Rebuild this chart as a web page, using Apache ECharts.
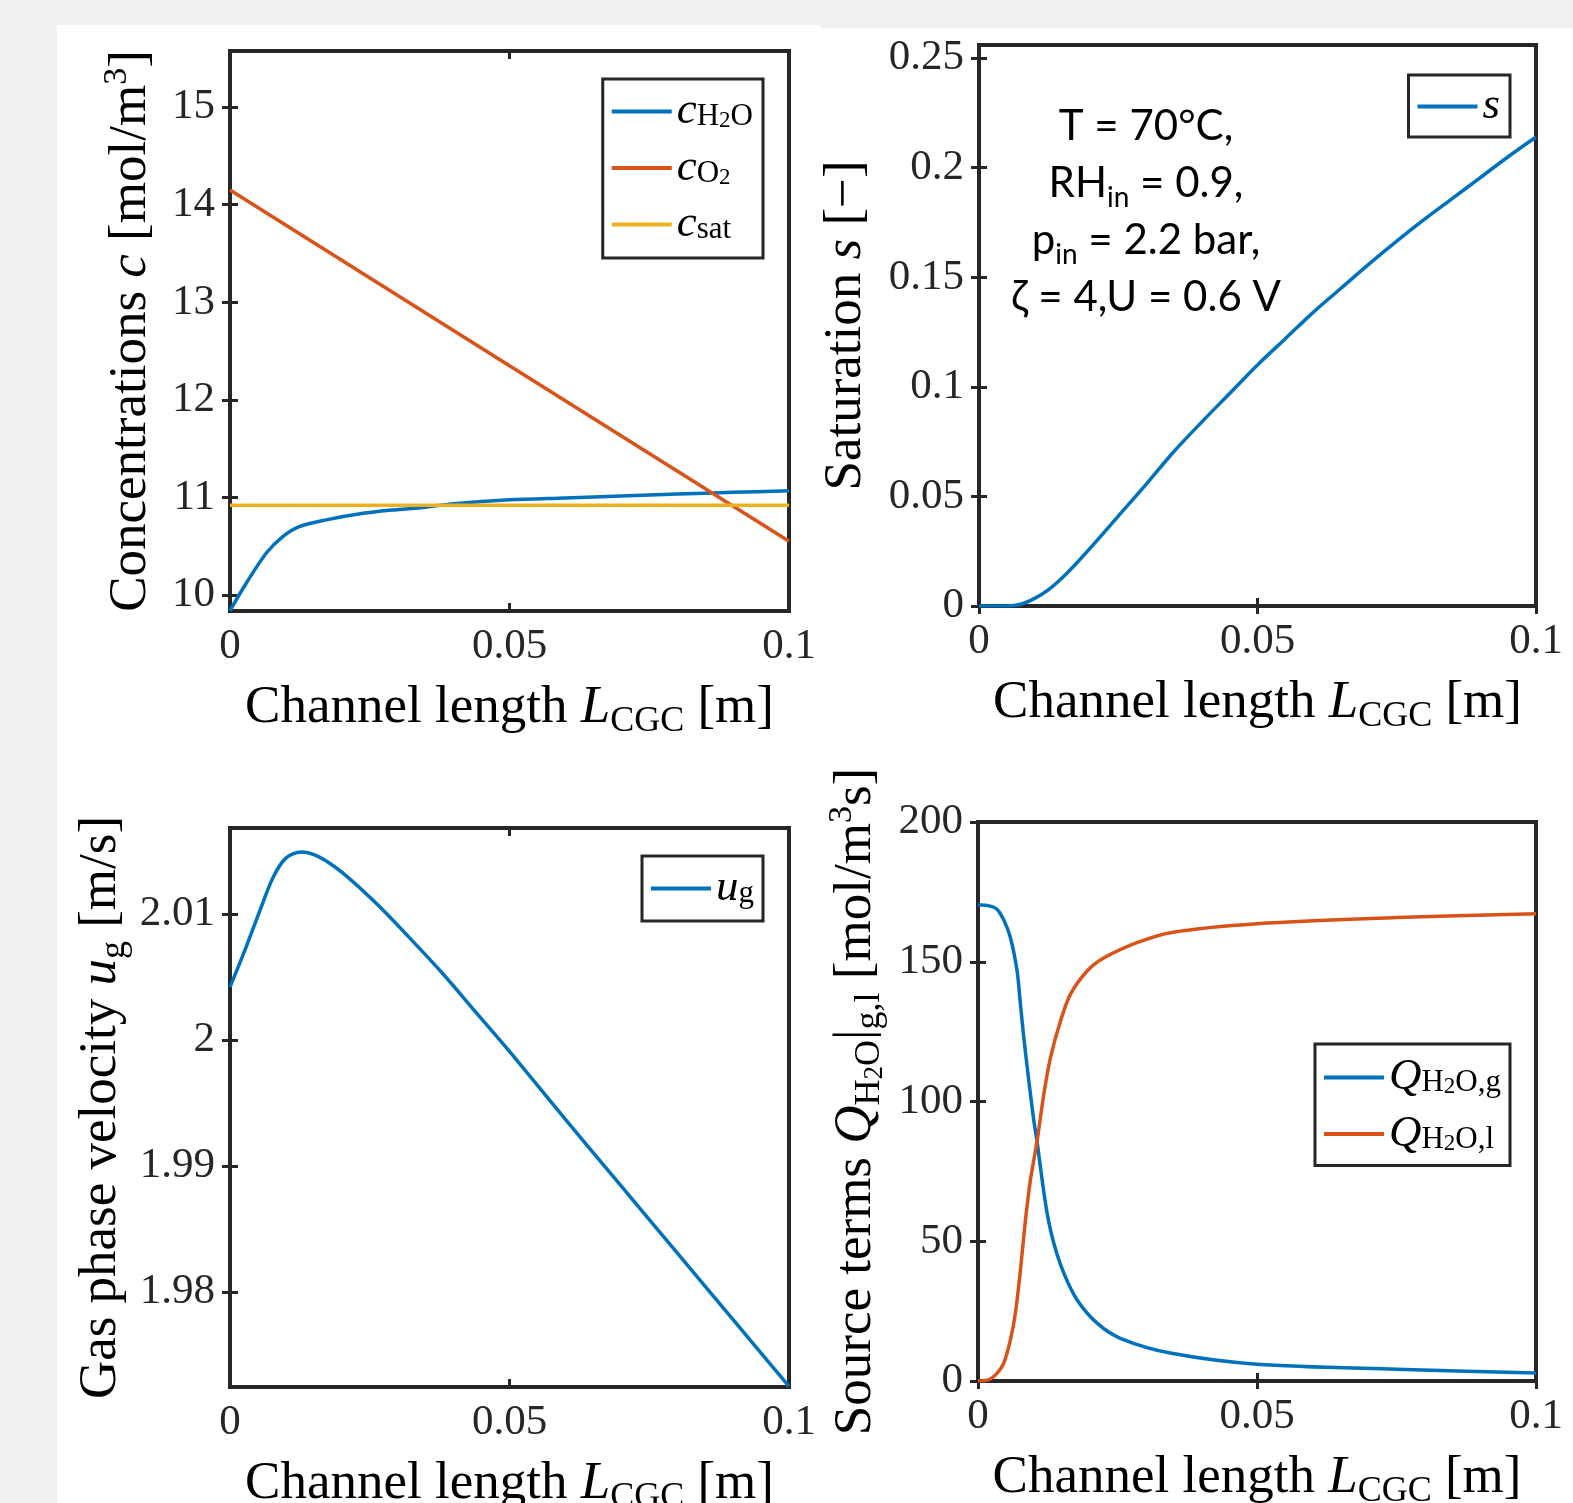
<!DOCTYPE html>
<html>
<head>
<meta charset="utf-8">
<script src="https://cdn.jsdelivr.net/npm/echarts@6/dist/echarts.min.js"></script>
<style>
  html, body { margin: 0; padding: 0; background: #f1f1f1; }
  #chart { width: 1573px; height: 1503px; }
</style>
</head>
<body>
<div id="chart"></div>
<script>
// channel position [m] and values
const lenH2O = [0, 0.0029, 0.0065, 0.0095, 0.0124, 0.0172, 0.023, 0.029, 0.035, 0.04, 0.05, 0.06, 0.07, 0.08, 0.09, 0.1];
const cH2O = [9.84, 10.12, 10.43, 10.60, 10.70, 10.77, 10.83, 10.87, 10.90, 10.935, 10.975, 10.995, 11.015, 11.035, 11.052, 11.068];
const lenO2 = [0, 0.05, 0.1];
const cO2 = [14.15, 12.35, 10.55];
const lenSat = [0, 0.1];
const cSat = [10.92, 10.92];

const lenS = [0, 0.005, 0.0075, 0.01, 0.0125, 0.015, 0.0175, 0.02, 0.025, 0.03, 0.035, 0.04, 0.045, 0.05,
  0.055, 0.06, 0.065, 0.07, 0.075, 0.08, 0.085, 0.09, 0.095, 0.1];
const sat = [0, 0, 0.0008, 0.0035, 0.0075, 0.013, 0.0195, 0.0265, 0.041, 0.0555, 0.0705, 0.084, 0.097, 0.110,
  0.122, 0.134, 0.145, 0.156, 0.1665, 0.1765, 0.186, 0.1955, 0.205, 0.214];

const lenU = [0, 0.0029, 0.0052, 0.0077, 0.01, 0.0127, 0.016, 0.0202, 0.0261, 0.032, 0.038, 0.044, 0.05,
  0.06, 0.07, 0.08, 0.09, 0.1];
const ug = [2.0042, 2.0074, 2.0101, 2.0129, 2.01444, 2.01492, 2.01452, 2.01325, 2.01087, 2.00817, 2.0053, 2.0022,
  1.9991, 1.9937, 1.9884, 1.9831, 1.9778, 1.9725];

const lenQg = [0, 0.002, 0.0034, 0.0046, 0.0058, 0.007, 0.0076, 0.0082, 0.0091, 0.01, 0.0106, 0.0115, 0.0124, 0.0136,
  0.0154, 0.0178, 0.0214, 0.0256, 0.0347, 0.05, 0.075, 0.1];
const qg = [170.4, 170, 168.8, 165, 158.7, 146.8, 134.9, 123, 107.5, 93.2, 85.5, 71.8, 59.9, 49.2, 38.5, 28.9, 20.6,
  15.2, 9.9, 6, 4.2, 2.9];
const lenQl = [0, 0.002, 0.0034, 0.0046, 0.0058, 0.0067, 0.0076, 0.0085, 0.0094, 0.0106, 0.0118, 0.013, 0.0148,
  0.0166, 0.0196, 0.0226, 0.0286, 0.0347, 0.05, 0.075, 0.1];
const ql = [0, 0.5, 2.7, 6.3, 14.6, 24.2, 39.6, 57.5, 72, 86, 102.7, 115.8, 128.9, 138.5, 146.8, 151.4, 156.9,
  160.5, 163.6, 165.8, 167.2];

const xTicks = [0, 0.05, 0.1];
const yTicksC = [10, 11, 12, 13, 14, 15];
const yTicksS = [0, 0.05, 0.1, 0.15, 0.2, 0.25];
const yTicksU = [1.98, 1.99, 2, 2.01];
const yTicksQ = [0, 50, 100, 150, 200];

const SERIF = '"Liberation Serif", "DejaVu Serif", serif';
const INK = '#262626';
const BLUE = '#0072BD', ORANGE = '#D95319', YELLOW = '#EDB120';

const zip = (xs, ys) => xs.map((x, i) => [x, ys[i]]);
const fmt = v => String(Math.round(v * 1e6) / 1e6);

function richStyles(size, lh) {
  lh = lh || size + 10;
  return {
    n: { fontFamily: SERIF, fontSize: size, lineHeight: lh, color: '#000' },
    i: { fontFamily: SERIF, fontSize: size, fontStyle: 'italic', lineHeight: lh, color: '#000' },
    sub: { fontFamily: SERIF, fontSize: Math.round(size * 0.68), lineHeight: Math.round(lh * 0.52), verticalAlign: 'bottom', color: '#000' },
    ss: { fontFamily: SERIF, fontSize: Math.round(size * 0.5), lineHeight: Math.round(lh * 0.36), verticalAlign: 'bottom', color: '#000' },
    sup: { fontFamily: SERIF, fontSize: Math.round(size * 0.64), lineHeight: Math.round(lh * 0.55), verticalAlign: 'top', color: '#000' }
  };
}

const grids = [
  { left: 230, top: 51, width: 559, height: 560 },
  { left: 979, top: 45, width: 557, height: 561 },
  { left: 230, top: 828, width: 559, height: 559 },
  { left: 978, top: 822, width: 558, height: 559 }
];
const yRanges = [[9.836, 15.574], [0, 0.256], [1.97246, 2.01683], [0, 200]];
const yTicks = [yTicksC, yTicksS, yTicksU, yTicksQ];
const yNames = [
  '{n|Concentrations }{i|c}{n| [mol/m}{sup|3}{n|]}',
  '{n|Saturation }{i|s}{n| [−]}',
  '{n|Gas phase velocity }{i|u}{sub|g}{n| [m/s]}',
  '{n|Source terms }{i|Q}{sub|H}{ss|2}{sub|O}{n||}{sub|g,l}{n| [mol/m}{sup|3}{n|s]}'
];
const yGaps = [67, 101, 97, 90];
const xName = '{n|Channel length }{i|L}{sub|CGC}{n| [m]}';

const tick = vals => ({ show: true, inside: true, length: 8, customValues: vals, lineStyle: { color: INK, width: 3 } });

const xAxis = [], yAxis = [];
grids.forEach((g, k) => {
  xAxis.push({
    type: 'value', gridIndex: k, min: 0, max: 0.1, position: 'bottom',
    axisLine: { show: false }, splitLine: { show: false },
    axisTick: tick(xTicks),
    axisLabel: { customValues: xTicks, formatter: fmt, fontFamily: SERIF, fontSize: 43, color: INK, margin: 14 },
    name: xName, nameLocation: 'middle', nameGap: 66,
    nameTextStyle: { fontFamily: SERIF, fontSize: 53, rich: richStyles(53) }
  });
  xAxis.push({
    type: 'value', gridIndex: k, min: 0, max: 0.1, position: 'top',
    axisLine: { show: false }, splitLine: { show: false },
    axisTick: tick(xTicks), axisLabel: { show: false }
  });
  yAxis.push({
    type: 'value', gridIndex: k, min: yRanges[k][0], max: yRanges[k][1], position: 'left',
    axisLine: { show: false }, splitLine: { show: false },
    axisTick: tick(yTicks[k]),
    axisLabel: { customValues: yTicks[k], formatter: fmt, fontFamily: SERIF, fontSize: 43, color: INK, margin: 15 },
    name: yNames[k], nameLocation: 'middle', nameRotate: 90, nameGap: yGaps[k],
    nameTextStyle: { fontFamily: SERIF, fontSize: 53, rich: richStyles(53) }
  });
  yAxis.push({
    type: 'value', gridIndex: k, min: yRanges[k][0], max: yRanges[k][1], position: 'right',
    axisLine: { show: false }, splitLine: { show: false },
    axisTick: tick(yTicks[k]), axisLabel: { show: false }
  });
});

const line = (name, k, data, color, smooth) => ({
  name, type: 'line', xAxisIndex: 2 * k, yAxisIndex: 2 * k, data,
  symbol: 'none', smooth: smooth || false,
  lineStyle: { color, width: 3.5, join: 'round' }, itemStyle: { color }, z: 3
});

const legendNames = {
  cH2O: '{i|c}{sub|H}{ss|2}{sub|O}',
  cO2: '{i|c}{sub|O}{ss|2}',
  csat: '{i|c}{sub|sat}',
  s: '{i|s}',
  ug: '{i|u}{sub|g}',
  Qg: '{i|Q}{sub|H}{ss|2}{sub|O,g}',
  Ql: '{i|Q}{sub|H}{ss|2}{sub|O,l}'
};
const legendRich = richStyles(45, 42);
const legend = (names, right, top, padding) => ({
  orient: 'vertical', right, top, data: names, padding,
  icon: 'rect', itemWidth: 60, itemHeight: 4, itemGap: 11.5,
  borderColor: INK, borderWidth: 3, backgroundColor: '#fff',
  formatter: n => legendNames[n],
  textStyle: { fontFamily: SERIF, fontSize: 45, rich: legendRich }
});

const chart = echarts.init(document.getElementById('chart'));
chart.setOption({
  backgroundColor: '#f1f1f1',
  animation: false,
  graphic: [
    { type: 'rect', z: -10, shape: { x: 57, y: 25, width: 763, height: 1478 }, style: { fill: '#fff' } },
    { type: 'rect', z: -10, shape: { x: 818, y: 28, width: 755, height: 1475 }, style: { fill: '#fff' } },
    {
      type: 'text', x: 1146, y: 98, z: 100,
      style: {
        text: '{n|T = 70°C,}\n{n|RH}{sub|in}{n| = 0.9,}\n{n|p}{sub|in}{n| = 2.2 bar,}\n{n|ζ = 4,U = 0.6 V}',
        align: 'center', verticalAlign: 'top', fill: '#000',
        rich: {
          n: { fontFamily: 'Lato', fontSize: 42, lineHeight: 57, color: '#000' },
          sub: { fontFamily: 'Lato', fontSize: 28, lineHeight: 24, verticalAlign: 'bottom', color: '#000' }
        }
      }
    }
  ],
  grid: grids.map(g => Object.assign({
    show: true, borderColor: INK, borderWidth: 4, backgroundColor: '#fff', outerBoundsMode: 'none'
  }, g)),
  xAxis, yAxis,
  legend: [
    legend(['cH2O', 'cO2', 'csat'], 810, 79, [10, 10, 11, 9]),
    legend(['s'], 63, 75, [9, 10, 8, 9]),
    legend(['ug'], 810, 856, [10, 9, 10, 9]),
    legend(['Qg', 'Ql'], 63, 1044, [11, 9, 9, 9])
  ],
  series: [
    line('cH2O', 0, zip(lenH2O, cH2O), BLUE, 0.3),
    line('cO2', 0, zip(lenO2, cO2), ORANGE),
    line('csat', 0, zip(lenSat, cSat), YELLOW),
    line('s', 1, zip(lenS, sat), BLUE, 0.3),
    line('ug', 2, zip(lenU, ug), BLUE, 0.3),
    line('Qg', 3, zip(lenQg, qg), BLUE, 0.3),
    line('Ql', 3, zip(lenQl, ql), ORANGE, 0.3)
  ]
});
</script>
</body>
</html>
